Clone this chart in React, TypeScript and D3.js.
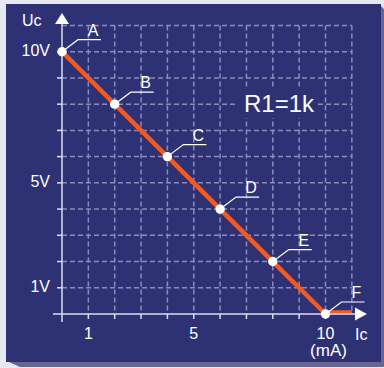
import * as d3 from "d3";

// load line of the transistor stage, R1 = 1k
const pointNames = ["A", "B", "C", "D", "E", "F"];
const currentMA = [0, 2, 4, 6, 8, 10];
const voltageV = [10, 8, 6, 4, 2, 0];
const tailMA = [10, 11];
const tailV = [0, 0];

const gridSteps = [1, 2, 3, 4, 5, 6, 7, 8, 9, 10, 11];
const tickSteps = [1, 2, 3, 4, 5, 6, 7, 8, 9, 10];
const xTickLabels = [1, 5, 10];
const yTickLabels = [10, 5, 1];

const W = 384;
const H = 368;
const FONT = "'Liberation Sans', Arial, sans-serif";
const PANEL = "#2e3274";
const AXIS = "#dcdcee";
const GRID = "#8d8bbb";
const ORANGE = "#f25a22";

export default function App() {
  const x = d3.scaleLinear().domain([0, 10]).range([62, 325.5]);
  const y = d3.scaleLinear().domain([0, 10]).range([314, 51.7]);

  const line = d3
    .line<number>()
    .x((d, i) => x(currentMA[i]))
    .y((d) => y(d));

  const tail = d3
    .line<number>()
    .x((d, i) => x(tailMA[i]))
    .y((d) => y(d));

  const x0 = x(0);
  const y0 = y(0);

  return (
    <svg
      width={W}
      height={H}
      style={{ position: "absolute", left: 0, top: 0, display: "block" }}
      fontFamily={FONT}
    >
      <rect width={W} height={H} fill="#e6e8f4" />
      <polygon
        points="381,6 384,9 384,367 20,367 9,362 381,362"
        fill="#6a6590"
      />
      <rect x={6} y={4} width={375} height={358} fill={PANEL} />

      {/* dashed grid */}
      <g stroke={GRID} strokeWidth={1.5} strokeDasharray="5,3">
        {gridSteps.map((v) => (
          <line key={"v" + v} x1={x(v)} x2={x(v)} y1={y(11)} y2={y0} />
        ))}
        {gridSteps.map((v) => (
          <line key={"h" + v} x1={x0} x2={x(11)} y1={y(v)} y2={y(v)} />
        ))}
      </g>

      {/* R1 label, breaks the grid behind it */}
      <rect x={236} y={88} width={82} height={30} fill={PANEL} />
      <text x={279} y={111.5} fill="#fff" fontSize={24} textAnchor="middle">
        R1=1k
      </text>

      {/* load line */}
      <path
        d={tail(tailV) || ""}
        stroke={ORANGE}
        strokeWidth={3.5}
        fill="none"
        transform="translate(0,-2)"
      />
      <path d={line(voltageV) || ""} stroke={ORANGE} strokeWidth={4.5} fill="none" />

      {/* axes */}
      <g stroke={AXIS} strokeWidth={1.5}>
        <line x1={x0} x2={x0} y1={22} y2={322} />
        <line x1={53} x2={357} y1={y0} y2={y0} />
        {tickSteps.map((v) => (
          <line key={"yt" + v} x1={x0 - 5} x2={x0} y1={y(v)} y2={y(v)} />
        ))}
        {tickSteps.map((v) => (
          <line key={"xt" + v} x1={x(v)} x2={x(v)} y1={y0} y2={y0 + 5} />
        ))}
      </g>
      <polygon
        points={`${x0},13 ${x0 - 7},24 ${x0 + 7},24`}
        fill="#fff"
      />
      <polygon
        points={`367,${y0} 355,${y0 - 6.5} 355,${y0 + 6.5}`}
        fill="#fff"
      />

      {/* axis labels */}
      <g fill="#fff" fontSize={16}>
        <text x={22} y={26}>Uc</text>
        {yTickLabels.map((v) => (
          <text key={"yl" + v} x={50} y={y(v) + 4} textAnchor="end">
            {v}V
          </text>
        ))}
        {xTickLabels.map((v) => (
          <text key={"xl" + v} x={x(v)} y={339} textAnchor="middle">
            {v}
          </text>
        ))}
        <text x={x(10) + 3} y={356} textAnchor="middle" fontSize={17}>
          (mA)
        </text>
        <text x={355} y={340}>Ic</text>
      </g>

      {/* named points with leaders */}
      {pointNames.map((name, i) => {
        const px = x(currentMA[i]);
        const py = y(voltageV[i]);
        return (
          <g key={name}>
            <polyline
              points={`${px},${py} ${px + 16},${py - 12} ${px + 39},${py - 12}`}
              stroke="#fff"
              strokeWidth={1.2}
              fill="none"
            />
            <circle cx={px} cy={py} r={4.7} fill="#fff" />
            <text
              x={px + 31}
              y={py - 16}
              fill="#fff"
              fontSize={16}
              textAnchor="middle"
            >
              {name}
            </text>
          </g>
        );
      })}
    </svg>
  );
}
